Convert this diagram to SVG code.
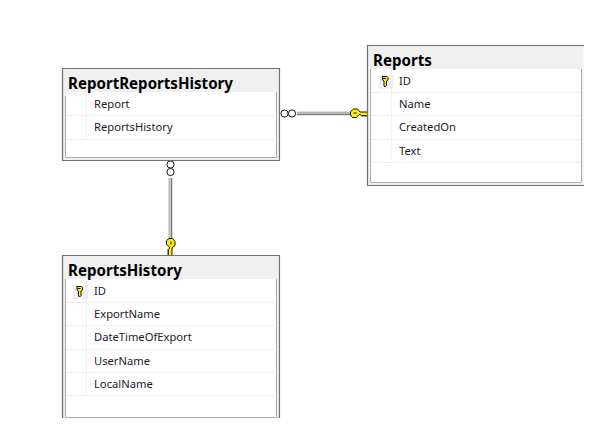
<svg xmlns="http://www.w3.org/2000/svg" width="611" height="440" viewBox="0 0 611 440">
<style>
.box{fill:#f0f0f0;stroke:none}
.edge{fill:none;stroke:#707070;stroke-width:1.2}
.inner{fill:#fff;stroke:none}
.innerEdge{fill:none;stroke:#ababab;stroke-width:1}
.row{stroke:#efefef;stroke-width:1;fill:none}
.title{font-family:"Noto Sans","Liberation Sans",sans-serif;font-weight:700;font-size:15.100px;fill:#000}
.field{font-family:"Noto Sans","Liberation Sans",sans-serif;font-size:11.200px;fill:#1a1a2a}
.keybg{fill:#efefef}
.ring{fill:#fff;stroke:#111;stroke-width:1}
.lineOuter{stroke:#808080;stroke-width:3.600;fill:none}
.lineInner{stroke:#ececec;stroke-width:1.200;fill:none}
.key{fill:#ffef00;stroke:#111;stroke-width:1}
</style>
<defs>
<g id="smallKey">
<rect class="keybg" x="-6" y="-7" width="15" height="14"/>
<path class="key" d="M-2.500-5.500h5l1 1v2.500l-1.500 1v4.500l-1.500 1.500-1-1v-5l-1.500-1v-2.500z" stroke-width="0.9"/>
<path d="M-1.500-3.500h3" stroke="#111" stroke-width="1" fill="none"/>
</g>
<g id="bigKeyH">
<path class="key" d="M-2.500-4.500h4l2.500 3h7.500v2.500l-1.500 2-1-1.500-1 1.500-1-1.500-1 1.500-1.500-2h-1.500l-2.500 3h-4l-2-2.500v-3.500z"/>
<path d="M-2.500-0.500h3" stroke="#111" stroke-width="1" fill="none"/>
</g>
</defs>
<rect width="611" height="440" fill="#fff"/>
<g id="connectors">
<path class="lineOuter" d="M297 113.500H353"/><path class="lineInner" d="M297 113H353"/>
<circle class="ring" cx="284.500" cy="113.500" r="3.600"/><circle class="ring" cx="292" cy="113.500" r="3.600"/>
<use href="#bigKeyH" x="356" y="113.500"/>
<path class="lineOuter" d="M170.500 178V241"/><path class="lineInner" d="M170 178V241"/>
<circle class="ring" cx="170.500" cy="164.500" r="3.600"/><circle class="ring" cx="170.500" cy="172" r="3.600"/>
<use href="#bigKeyH" transform="translate(170.500 244) rotate(90)"/>
</g>
<g id="ReportReportsHistory">
<rect class="box" x="62.500" y="68.500" width="217" height="92"/>
<rect class="inner" x="66" y="92" width="211" height="65"/>
<path class="innerEdge" d="M65.500 96V157.500H276.500V92"/>
<path class="edge" d="M62.500 160.500V68.500H279.500V160.500Z"/>
<path class="row" d="M66 115.500H275M66 139.500H275M86.500 93V138"/>
<text class="title" x="68" y="89">ReportReportsHistory</text>
<text class="field" x="94" y="108">Report</text>
<text class="field" x="94" y="131">ReportsHistory</text>
</g>
<g id="Reports">
<rect class="box" x="367.500" y="45.500" width="216" height="140"/>
<rect class="inner" x="371" y="69" width="210" height="113"/>
<path class="innerEdge" d="M370.500 69V182.500H581.500V69"/>
<path class="edge" d="M584 45.500H367.500V185.500H584"/>
<path class="row" d="M371 92.500H580M371 115.500H580M371 139.500H580M371 162.500H580M391.500 70V161"/>
<text class="title" x="373" y="66">Reports</text>
<use href="#smallKey" x="384.500" y="82"/>
<text class="field" x="399" y="85">ID</text>
<text class="field" x="399" y="108">Name</text>
<text class="field" x="399" y="131">CreatedOn</text>
<text class="field" x="399" y="155">Text</text>
</g>
<g id="ReportsHistory">
<rect class="box" x="62.500" y="255.500" width="217" height="163"/>
<rect class="inner" x="66" y="279" width="211" height="139"/>
<path class="innerEdge" d="M65.500 279V417.500H276.500V279"/>
<path class="edge" d="M62.500 418V255.500H279.500V418"/>
<path class="row" d="M66 302.500H275M66 325.500H275M66 349.500H275M66 372.500H275M66 395.500H275M86.500 280V394"/>
<text class="title" x="68" y="276">ReportsHistory</text>
<use href="#smallKey" x="79" y="292"/>
<text class="field" x="94" y="295">ID</text>
<text class="field" x="94" y="318">ExportName</text>
<text class="field" x="94" y="341">DateTimeOfExport</text>
<text class="field" x="94" y="365">UserName</text>
<text class="field" x="94" y="388">LocalName</text>
</g>
</svg>
